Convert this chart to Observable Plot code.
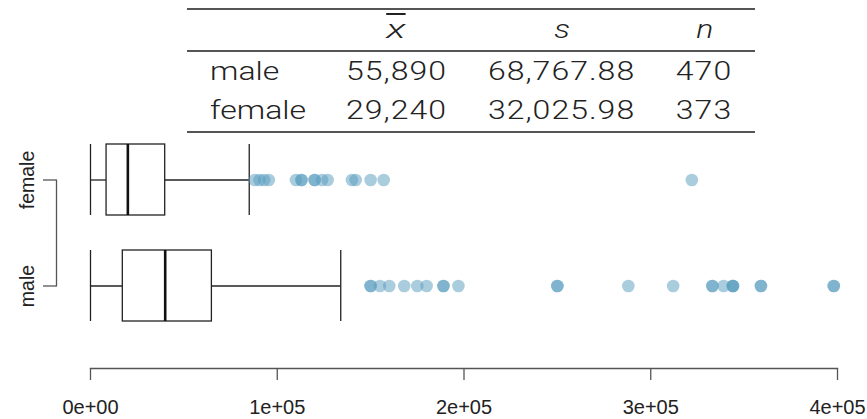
<!DOCTYPE html>
<html>
<head>
<meta charset="utf-8">
<script src="https://cdn.jsdelivr.net/npm/d3@7"></script>
<script src="https://cdn.jsdelivr.net/npm/@observablehq/plot@0.6"></script>
<style>
  html, body { margin: 0; padding: 0; background: #fff; }
  #wrap { width: 867px; height: 419px; position: relative; overflow: hidden; }
  #tbl { position: relative; height: 135px; }
  #tbl table {
    position: absolute; left: 187px; top: 8px; width: 568px;
    border-collapse: collapse; table-layout: fixed;
    font-family: Roboto, "Liberation Sans", sans-serif; font-weight: 300; font-size: 25px; color: #222;
  }
  #tbl td, #tbl th { padding: 0; line-height: 39px; font-weight: 300; text-align: center; white-space: nowrap; }
  #tbl thead tr { border-top: 2px solid #555; border-bottom: 2px solid #555; }
  #tbl thead th { height: 40px; line-height: 40px; font-style: italic; }
  #tbl tbody tr:last-child { border-bottom: 2px solid #555; }
  #tbl tbody tr:last-child td { padding-bottom: 1px; }
  #tbl .c1 { text-align: left; padding-left: 23px; }
  #tbl .c4 { padding-right: 8px; }
  #tbl span { display: inline-block; transform: scaleX(1.28); }
  #tbl td.num span { letter-spacing: 0.8px; }
  #tbl .c1 span { transform-origin: left center; }
  #tbl .xbar { text-decoration: overline; text-decoration-thickness: 1.5px; }
  #chart svg { display: block; }
</style>
</head>
<body>
<div id="wrap">
  <div id="tbl"></div>
  <div id="chart"></div>
</div>
<script>
// ---- table data ----
const tableGroups = ["male", "female"];
const tableMeans = ["55,890", "29,240"];
const tableSDs = ["68,767.88", "32,025.98"];
const tableNs = ["470", "373"];

// ---- boxplot data ----
const groups = ["female", "male"];
const mins = [0, 0];
const q1s = [8600, 17300];
const medians = [20000, 40000];
const q3s = [40000, 65000];
const upperWhiskers = [85000, 134000];
const femaleOutliers = [88000, 90500, 93000, 95500, 110000, 113000, 113000, 120000, 120000, 124000, 127000, 140000, 142000, 150000, 157000, 322000];
const maleOutliers = [150000, 150000, 155000, 160000, 168000, 175000, 180000, 189000, 189000, 197000, 250000, 250000, 288000, 312000, 333000, 333000, 339000, 344000, 344000, 344000, 359000, 359000, 398000, 398000];
const xTicks = [0, 100000, 200000, 300000, 400000];

// ---- build table ----
{
  let html = "<table><colgroup><col style='width:143px'><col style='width:132px'><col style='width:200px'><col style='width:93px'></colgroup><thead><tr>";
  html += "<th class='c1'></th>";
  html += "<th class='c2'><span><span class='xbar'>x</span></span></th>";
  html += "<th class='c3'><span>s</span></th>";
  html += "<th class='c4'><span>n</span></th>";
  html += "</tr></thead><tbody>";
  tableGroups.forEach((g, i) => {
    html += `<tr><td class='c1'><span>${g}</span></td><td class='c2 num'><span>${tableMeans[i]}</span></td><td class='c3 num'><span>${tableSDs[i]}</span></td><td class='c4 num'><span>${tableNs[i]}</span></td></tr>`;
  });
  html += "</tbody></table>";
  document.getElementById("tbl").innerHTML = html;
}

// ---- build chart ----
const stats = groups.map((g, i) => ({group: g, min: mins[i], q1: q1s[i], med: medians[i], q3: q3s[i], hi: upperWhiskers[i]}));
const outliers = [
  ...femaleOutliers.map(v => ({group: "female", value: v})),
  ...maleOutliers.map(v => ({group: "male", value: v}))
];
const fmt = d => {
  const [m, e] = d.toExponential(0).split("e");
  return m + "e" + e[0] + e.slice(1).padStart(2, "0");
};
const ink = "#222";
const axisInk = "#555";

const chart = Plot.plot({
  width: 867,
  height: 284,
  marginLeft: 90,
  marginRight: 30,
  marginTop: 0,
  marginBottom: 51,
  style: {fontFamily: "'Liberation Sans', Arial, sans-serif", background: "white", color: "#222", overflow: "visible"},
  x: {domain: [0, 400000]},
  y: {type: "band", domain: groups, paddingInner: 0.327, paddingOuter: 0, insetTop: 8, insetBottom: 46},
  marks: [
    Plot.frame({anchor: "bottom", stroke: axisInk, strokeWidth: 1.3}),
    Plot.axisX({ticks: xTicks, tickSize: 12, tickPadding: 19, tickFormat: fmt, fontSize: 20, stroke: axisInk, strokeWidth: 1.3, label: null}),
    Plot.axisY({tickSize: 13, dx: -34, tickRotate: -90, tickPadding: 10, fontSize: 19.5, stroke: axisInk, strokeWidth: 1.3, label: null}),
    Plot.line(groups, {x: () => 0, y: d => d, dx: -34, stroke: axisInk, strokeWidth: 1.3}),
    Plot.ruleY(stats, {x1: "min", x2: "q1", y: "group", stroke: ink, strokeWidth: 1.3}),
    Plot.ruleY(stats, {x1: "q3", x2: "hi", y: "group", stroke: ink, strokeWidth: 1.3}),
    Plot.tickX(stats, {x: "min", y: "group", stroke: ink, strokeWidth: 1.3}),
    Plot.tickX(stats, {x: "hi", y: "group", stroke: ink, strokeWidth: 1.3}),
    Plot.barX(stats, {x1: "q1", x2: "q3", y: "group", fill: "white", stroke: ink, strokeWidth: 1.3}),
    Plot.tickX(stats, {x: "med", y: "group", stroke: "#111", strokeWidth: 2.6}),
    Plot.dot(outliers, {x: "value", y: "group", r: 6.3, fill: "#569BBD", fillOpacity: 0.5, stroke: "none"})
  ]
});
document.getElementById("chart").appendChild(chart);
</script>
</body>
</html>
